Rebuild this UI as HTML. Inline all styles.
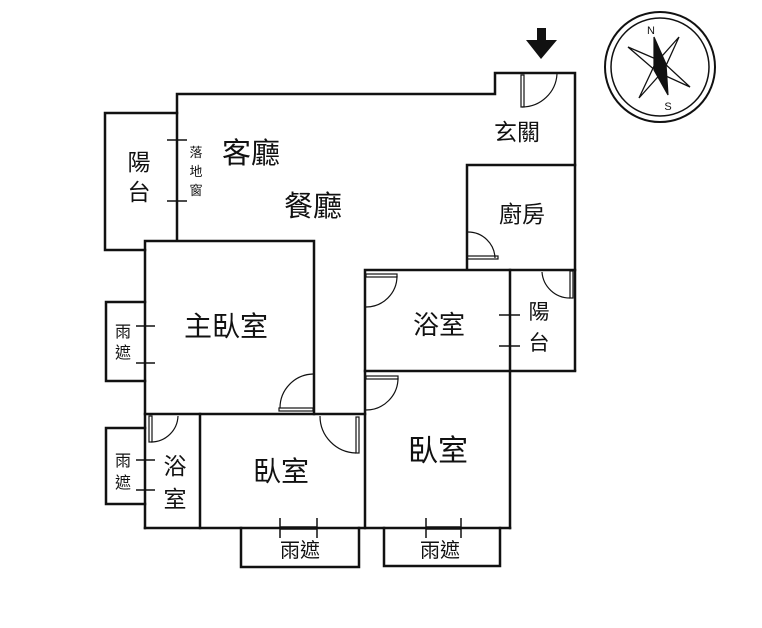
<!DOCTYPE html>
<html><head><meta charset="utf-8"><style>
html,body{margin:0;padding:0;background:#fff}
svg{display:block}
text{font-family:"Liberation Sans","Noto Sans CJK TC",sans-serif;fill:#111}
</style></head><body>
<svg width="762" height="628" viewBox="0 0 762 628" xmlns="http://www.w3.org/2000/svg">
<g fill="none" stroke="#111" stroke-width="2.5" stroke-linecap="square">
<polyline points="177,240 177,94 495,94 495,73 575,73 575,370"/>
<polyline points="177,113 105,113 105,250 145,250"/>
<polyline points="467,268 467,165 575,165"/>
<polyline points="145,528 145,241 314,241 314,414"/>
<line x1="145" y1="414" x2="365" y2="414"/>
<polyline points="365,528 365,270 575,270"/>
<line x1="365" y1="371" x2="575" y2="371"/>
<line x1="510" y1="270" x2="510" y2="528"/>
<line x1="145" y1="528" x2="510" y2="528"/>
<line x1="200" y1="414" x2="200" y2="528"/>
<polyline points="145,302 106,302 106,381 145,381"/>
<polyline points="145,428 106,428 106,504 145,504"/>
<polyline points="241,528 241,567 359,567 359,528"/>
<polyline points="384,528 384,566 500,566 500,528"/>
</g>
<g stroke="#111" stroke-width="1.5" fill="none">
<line x1="167" y1="140" x2="187" y2="140"/><line x1="167" y1="201" x2="187" y2="201"/>
<line x1="136" y1="326" x2="155" y2="326"/><line x1="136" y1="363" x2="155" y2="363"/>
<line x1="136" y1="460" x2="155" y2="460"/><line x1="136" y1="490" x2="155" y2="490"/>
<line x1="499" y1="315" x2="520" y2="315"/><line x1="499" y1="346" x2="520" y2="346"/>
<line x1="510" y1="315" x2="510" y2="346"/>
<line x1="280" y1="518" x2="280" y2="538"/><line x1="317" y1="518" x2="317" y2="538"/>
<line x1="426" y1="518" x2="426" y2="538"/><line x1="461" y1="518" x2="461" y2="538"/>
</g>
<g stroke="#111" stroke-width="3.5"><line x1="280" y1="528" x2="317" y2="528"/><line x1="426" y1="528" x2="461" y2="528"/></g>
<g stroke="#111" stroke-width="1.2" fill="none">
<rect x="521" y="75" width="3" height="32"/><path d="M522,107 A35,35 0 0 0 557,74"/>
<rect x="467" y="256" width="31" height="3"/><path d="M468,232 A27,27 0 0 1 495,258"/>
<rect x="570" y="271" width="3" height="27"/><path d="M542,272 A28,28 0 0 0 570,298"/>
<rect x="366" y="274" width="31" height="3"/><path d="M397,276 A31,31 0 0 1 366,307"/>
<rect x="366" y="376" width="32" height="3"/><path d="M398,378 A32,32 0 0 1 366,410"/>
<rect x="279" y="408" width="34" height="3"/><path d="M280,408 A34,34 0 0 1 313,374"/>
<rect x="356" y="417" width="3" height="36"/><path d="M320,416 A37,37 0 0 0 356,453"/>
<rect x="149" y="416" width="3" height="26"/><path d="M151,442 A27,27 0 0 0 178,416"/>
</g>
<rect x="537" y="28" width="9" height="13" fill="#111"/>
<polygon points="526,40 557,40 541,59" fill="#111"/>
<g stroke="#111" fill="none">
<circle cx="660" cy="67" r="55" stroke-width="2"/>
<circle cx="660" cy="67" r="49" stroke-width="1.5"/>
<polygon points="628,47 663,62 690,87 657,72" stroke-width="1.3" fill="#fff"/>
<polygon points="679,37 664,70 639,98 655,64" stroke-width="1.3" fill="#fff"/>
<polygon points="654,37 666,64 668,95 654,70" stroke-width="1.2" fill="#111"/>
</g>
<text x="651" y="34" font-size="11" text-anchor="middle">N</text>
<text x="668" y="110" font-size="11" text-anchor="middle">S</text>
<g text-anchor="middle">
<text x="251" y="163" font-size="29">客廳</text>
<text x="313" y="216" font-size="29">餐廳</text>
<text x="517" y="140" font-size="23">玄關</text>
<text x="522" y="222" font-size="23">廚房</text>
<text x="139" y="170" font-size="23">陽</text>
<text x="139" y="200" font-size="23">台</text>
<text x="196" y="157" font-size="13">落</text>
<text x="196" y="176" font-size="13">地</text>
<text x="196" y="195" font-size="13">窗</text>
<text x="226" y="336" font-size="28">主臥室</text>
<text x="439" y="334" font-size="26">浴室</text>
<text x="539" y="319" font-size="21">陽</text>
<text x="539" y="350" font-size="21">台</text>
<text x="438" y="461" font-size="30">臥室</text>
<text x="281" y="481" font-size="28">臥室</text>
<text x="175" y="474" font-size="23">浴</text>
<text x="175" y="507" font-size="23">室</text>
<text x="123" y="337" font-size="16">雨</text>
<text x="123" y="358" font-size="16">遮</text>
<text x="123" y="466" font-size="16">雨</text>
<text x="123" y="488" font-size="16">遮</text>
<text x="300" y="557" font-size="20">雨遮</text>
<text x="440" y="557" font-size="20">雨遮</text>
</g>
</svg>
</body></html>
